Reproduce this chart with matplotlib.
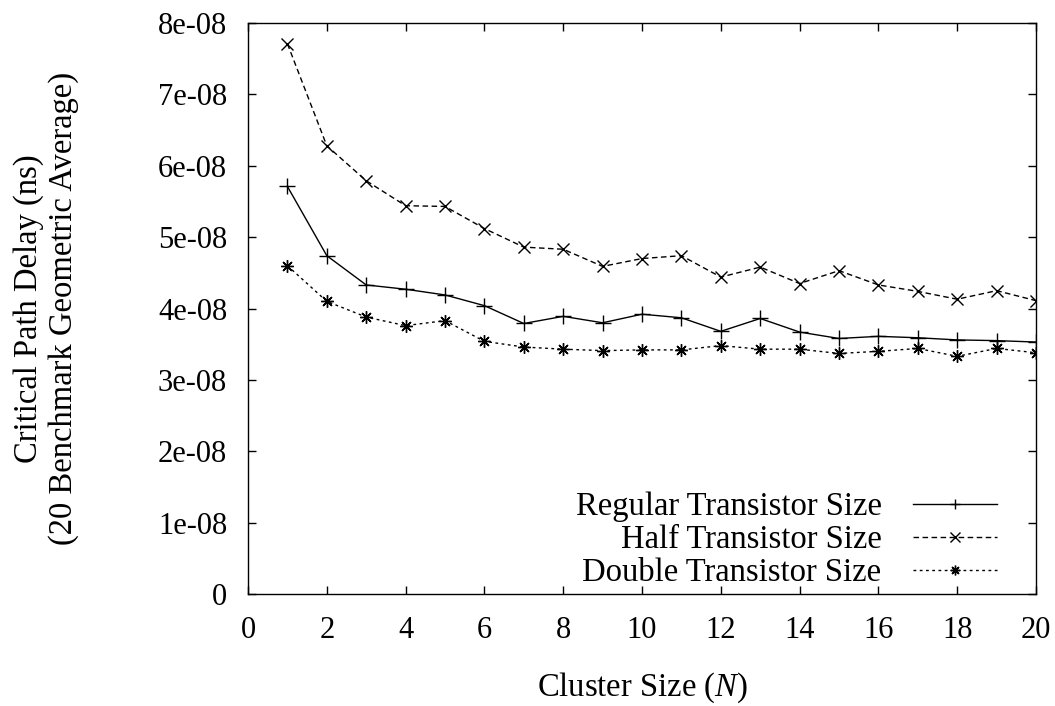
import matplotlib
matplotlib.use("Agg")
import matplotlib.pyplot as plt

plt.rcParams['font.family'] = ['Liberation Serif', 'DejaVu Serif']
plt.rcParams['mathtext.fontset'] = 'custom'
plt.rcParams['mathtext.it'] = 'Liberation Serif:italic'
plt.rcParams['mathtext.rm'] = 'Liberation Serif'

N = list(range(1, 21))
regular = [57.1, 47.4, 43.3, 42.7, 41.9, 40.4, 37.9, 38.9, 38.0, 39.2,
           38.7, 36.8, 38.6, 36.7, 35.8, 36.1, 35.9, 35.6, 35.5, 35.3]
half = [77.1, 62.8, 57.9, 54.4, 54.3, 51.2, 48.6, 48.3, 45.9, 47.0,
        47.4, 44.4, 45.8, 43.5, 45.3, 43.3, 42.4, 41.3, 42.5, 41.1]
double = [46.0, 41.0, 38.8, 37.6, 38.3, 35.4, 34.6, 34.3, 34.1, 34.2,
          34.2, 34.8, 34.3, 34.3, 33.7, 34.0, 34.4, 33.3, 34.4, 33.8]
scale = 1e-9
xticks = list(range(0, 21, 2))
yticks = [i * 1e-8 for i in range(9)]
ytick_labels = ['0', '1e-08', '2e-08', '3e-08', '4e-08', '5e-08', '6e-08', '7e-08', '8e-08']

FS = 22
LFS = 23.5
fig = plt.figure(figsize=(10.55, 7.06), dpi=100)
ax = fig.add_axes([248/1055, 1 - 594/706, (1036-248)/1055, (594-23)/706])

ax.plot(N, [v*scale for v in regular], color='black', lw=1.0, marker='+', ms=11, mew=1.0,
        label='Regular Transistor Size')
ax.plot(N, [v*scale for v in half], color='black', lw=1.0, ls=(0, (4, 2.5)), marker='x', ms=8, mew=1.0,
        label='Half Transistor Size')
ax.plot(N, [v*scale for v in double], color='black', lw=1.0, ls=(0, (2, 2.5)), marker=(8, 2, 0), ms=9, mew=1.0,
        label='Double Transistor Size')

ax.set_xlim(0, 20)
ax.set_ylim(0, 8e-8)
ax.set_xticks(xticks)
ax.set_yticks(yticks)
ax.set_yticklabels(ytick_labels)
ax.tick_params(direction='in', top=True, right=True, length=6, width=1.0, labelsize=FS)
ax.tick_params(axis='x', pad=16)
ax.tick_params(axis='y', pad=15)
for s in ax.spines.values():
    s.set_linewidth(1.0)

ax.set_xlabel('Cluster Size ($\\it{N}$)', fontsize=LFS, labelpad=18)
ax.set_ylabel('Critical Path Delay (ns)\n(20 Benchmark Geometric Average)', fontsize=LFS,
              labelpad=57, linespacing=1.15)

leg = ax.legend(loc='lower right', bbox_to_anchor=(0.951, 0.01), frameon=False, markerfirst=False,
                fontsize=LFS, handlelength=2.6, labelspacing=0.08, borderaxespad=0.0,
                handletextpad=0.95, borderpad=0.0)
for h in leg.legend_handles:
    h.set_markersize(7)

fig.savefig('out.png', dpi=100)
